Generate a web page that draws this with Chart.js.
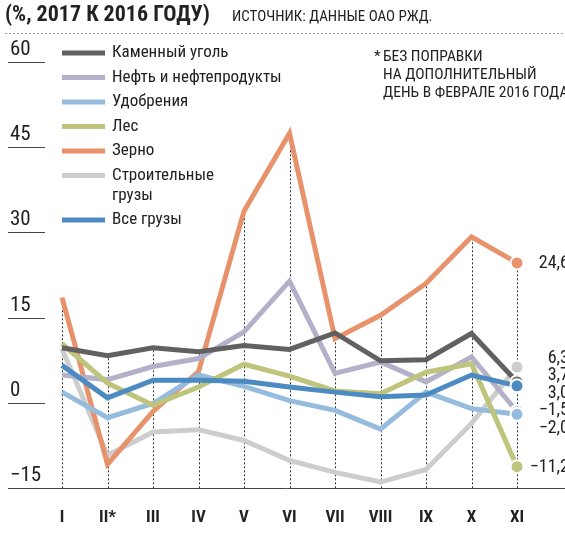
<!DOCTYPE html>
<html lang="ru">
<head>
<meta charset="utf-8">
<title>Погрузка на сети РЖД</title>
<script src="https://cdn.jsdelivr.net/npm/chart.js@4.4.1/dist/chart.umd.min.js"></script>
<style>
    html, body { margin: 0; padding: 0; background: #fff; }
    canvas { display: block; }
</style>
</head>
<body>
<canvas id="chart" width="565" height="536"></canvas>
<script>
// месяцы 2017 года
const months = ['I', 'II*', 'III', 'IV', 'V', 'VI', 'VII', 'VIII', 'IX', 'X', 'XI'];

// изменение погрузки, % к 2016 году
const coal = [9.7, 8.3, 9.7, 9.0, 10.1, 9.4, 12.3, 7.4, 7.6, 12.2, 3.7];
const oil = [4.9, 4.1, 6.4, 7.8, 12.5, 21.4, 5.2, 7.2, 3.7, 8.1, -1.5];
const fertilizers = [1.9, -2.6, -0.1, 4.9, 2.9, 0.4, -1.3, -4.6, 1.9, -1.0, -2.0];
const timber = [10.4, 3.5, -0.4, 2.8, 6.8, 4.7, 2.1, 1.6, 5.4, 6.9, -11.2];
const grain = [18.5, -10.8, -1.5, 5.5, 33.7, 47.4, 11.3, 15.4, 21.0, 29.2, 24.6];
const construction = [9.5, -9.2, -5.1, -4.7, -6.6, -10.1, -12.2, -13.9, -11.7, -3.6, 6.3];
const allCargo = [6.6, 0.9, 4.0, 4.0, 3.8, 2.8, 1.9, 1.1, 1.4, 4.9, 3.0];

const yTicks = [60, 45, 30, 15, 0, -15];

const FONT = "'Liberation Sans Narrow', 'Roboto Condensed', 'DejaVu Sans Condensed', sans-serif";

function makeSeries(label, data, color, order) {
    const last = data.length - 1;
    return {
        label: label,
        data: data,
        borderColor: color,
        backgroundColor: color,
        borderWidth: 5,
        borderJoinStyle: 'miter',
        borderCapStyle: 'butt',
        tension: 0,
        fill: false,
        clip: false,
        order: order,
        pointRadius: data.map((_, i) => i === last ? 6.5 : 0),
        pointHoverRadius: 0,
        pointBackgroundColor: color,
        pointBorderColor: '#fff',
        pointBorderWidth: 2
    };
}

function fmt(v) {
    const s = Math.abs(v).toFixed(1).replace('.', ',');
    return v < 0 ? '\u2212' + s : s;
}

// оформление: заголовок, легенда, сетка, подписи
const decorations = {
    id: 'decorations',
    beforeDatasetsDraw(chart) {
        const ctx = chart.ctx;
        const x = chart.scales.x;
        const y = chart.scales.y;
        const base = y.getPixelForValue(-15);

        ctx.save();
        // вертикальные пунктиры до верхней точки месяца
        ctx.strokeStyle = '#333';
        ctx.lineWidth = 1;
        ctx.setLineDash([2, 2]);
        months.forEach((m, i) => {
            const top = Math.max(...chart.data.datasets.map(d => d.data[i]));
            const px = Math.round(x.getPixelForValue(i)) + 0.5;
            ctx.beginPath();
            ctx.moveTo(px, base);
            ctx.lineTo(px, y.getPixelForValue(top));
            ctx.stroke();
        });

        // заголовок и пунктир под ним
        ctx.beginPath();
        ctx.strokeStyle = '#999';
        ctx.moveTo(5, 33.5);
        ctx.lineTo(565, 33.5);
        ctx.stroke();
        ctx.setLineDash([]);

        ctx.fillStyle = '#222';
        ctx.textBaseline = 'alphabetic';
        ctx.textAlign = 'left';
        ctx.font = 'bold 22px ' + FONT;
        ctx.fillText('(%, 2017 К 2016 ГОДУ)', 5, 21);
        ctx.font = '15px ' + FONT;
        ctx.fillText('ИСТОЧНИК: ДАННЫЕ ОАО РЖД.', 232, 21);

        // примечание
        ctx.font = '15.5px ' + FONT;
        ctx.fillText('*', 374, 61);
        ctx.fillText('БЕЗ ПОПРАВКИ', 383, 61);
        ctx.fillText('НА ДОПОЛНИТЕЛЬНЫЙ', 383, 79);
        ctx.fillText('ДЕНЬ В ФЕВРАЛЕ 2016 ГОДА', 383, 97);

        // шкала Y: короткие штрихи слева
        ctx.strokeStyle = '#444';
        ctx.lineWidth = 1;
        ctx.font = '21px ' + FONT;
        ctx.textBaseline = 'bottom';
        yTicks.forEach(t => {
            const py = Math.round(y.getPixelForValue(t)) + 0.5;
            ctx.beginPath();
            ctx.moveTo(8, py);
            ctx.lineTo(t === -15 ? 565 : 45, py);
            ctx.stroke();
            ctx.fillText(t < 0 ? '\u2212' + Math.abs(t) : String(t), 10, py - 2);
        });

        // подписи месяцев
        ctx.font = 'bold 17px ' + FONT;
        ctx.textAlign = 'center';
        ctx.textBaseline = 'middle';
        months.forEach((m, i) => {
            ctx.fillText(m, x.getPixelForValue(i), 518);
        });

        // легенда
        ctx.textAlign = 'left';
        ctx.font = '17px ' + FONT;
        let ly = 53;
        chart.data.datasets.forEach(d => {
            ctx.fillStyle = d.borderColor;
            ctx.fillRect(62, ly - 2.5, 43, 5);
            ctx.fillStyle = '#222';
            const lines = d.label.split('\n');
            lines.forEach((ln, k) => ctx.fillText(ln, 112, ly + k * 20));
            ly += 24.5 + 20 * (lines.length - 1);
        });
        ctx.restore();
    },
    afterDatasetsDraw(chart) {
        const ctx = chart.ctx;
        const y = chart.scales.y;
        const last = months.length - 1;

        // подписи последних значений, раздвинутые без наложений
        const items = chart.data.datasets.map(d => ({
            v: d.data[last],
            target: y.getPixelForValue(d.data[last])
        })).sort((a, b) => a.target - b.target);
        const gap = 17.5;
        let groups = items.map(it => ({ items: [it], pos: it.target }));
        let merged = true;
        while (merged) {
            merged = false;
            for (let i = 0; i < groups.length - 1; i++) {
                const a = groups[i], b = groups[i + 1];
                const aEnd = a.pos + (a.items.length - 1) * gap;
                if (b.pos - aEnd < gap) {
                    const all = a.items.concat(b.items);
                    const mean = all.reduce((s, it) => s + it.target, 0) / all.length;
                    groups.splice(i, 2, { items: all, pos: mean - (all.length - 1) * gap / 2 });
                    merged = true;
                    break;
                }
            }
        }

        ctx.save();
        ctx.fillStyle = '#222';
        ctx.font = '18px ' + FONT;
        ctx.textAlign = 'right';
        ctx.textBaseline = 'middle';
        groups.forEach(g => {
            g.items.forEach((it, k) => {
                ctx.fillText(fmt(it.v), 569, g.pos + k * gap + 1);
            });
        });
        ctx.restore();
    }
};

const ctx = document.getElementById('chart').getContext('2d');
const chart = new Chart(ctx, {
    type: 'line',
    data: {
        labels: months,
        datasets: [
            makeSeries('Каменный уголь', coal, '#616161', 2),
            makeSeries('Нефть и нефтепродукты', oil, '#b3b1c9', 5),
            makeSeries('Удобрения', fertilizers, '#95bcdd', 4),
            makeSeries('Лес', timber, '#bec47b', 3),
            makeSeries('Зерно', grain, '#e8926b', 6),
            makeSeries('Строительные\nгрузы', construction, '#cdcdcd', 7),
            makeSeries('Все грузы', allCargo, '#4c8bc1', 1)
        ]
    },
    options: {
        responsive: false,
        animation: false,
        events: [],
        layout: {
            padding: { left: 62, right: 48, top: 61.5, bottom: 47.7 }
        },
        plugins: {
            legend: { display: false },
            tooltip: { enabled: false }
        },
        scales: {
            x: { display: false, offset: false },
            y: { display: false, min: -15, max: 60 }
        }
    },
    plugins: [decorations]
});
</script>
</body>
</html>
